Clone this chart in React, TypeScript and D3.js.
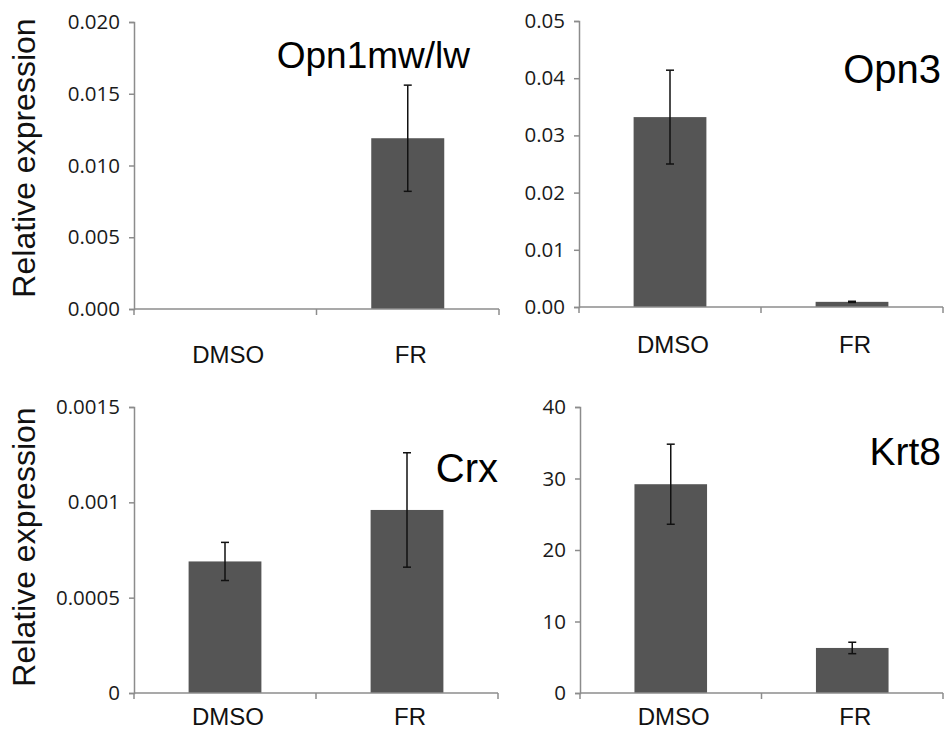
import React, { useEffect, useRef } from 'react';
import * as d3 from 'd3';

const categories = ['DMSO', 'FR'];

const opn1Means = [0, 0.0119];
const opn1Errors = [0, 0.0037];
const opn1Ticks = [0, 0.005, 0.01, 0.015, 0.02];
const opn1TickLabels = ['0.000', '0.005', '0.010', '0.015', '0.020'];

const opn3Means = [0.0332, 0.0009];
const opn3Errors = [0.0082, 0.0001];
const opn3Ticks = [0, 0.01, 0.02, 0.03, 0.04, 0.05];
const opn3TickLabels = ['0.00', '0.01', '0.02', '0.03', '0.04', '0.05'];

const crxMeans = [0.00069, 0.00096];
const crxErrors = [0.0001, 0.0003];
const crxTicks = [0, 0.0005, 0.001, 0.0015];
const crxTickLabels = ['0', '0.0005', '0.001', '0.0015'];

const krt8Means = [29.2, 6.3];
const krt8Errors = [5.6, 0.8];
const krt8Ticks = [0, 10, 20, 30, 40];
const krt8TickLabels = ['0', '10', '20', '30', '40'];

const AXIS = '#8c8c8c';
const BAR = '#555555';

// layout for each of the four small charts
const panels = [
  { title: 'Opn1mw/lw', means: opn1Means, errors: opn1Errors, ticks: opn1Ticks, labels: opn1TickLabels,
    x0: 134, x1: 499, top: 22, bottom: 309, titleX: 470, titleY: 68, titleSize: 37, labelY: 363, yLabel: 158 },
  { title: 'Opn3', means: opn3Means, errors: opn3Errors, ticks: opn3Ticks, labels: opn3TickLabels,
    x0: 579, x1: 943, top: 21, bottom: 307, titleX: 941, titleY: 83, titleSize: 40, labelY: 353, yLabel: 0 },
  { title: 'Crx', means: crxMeans, errors: crxErrors, ticks: crxTicks, labels: crxTickLabels,
    x0: 134, x1: 498, top: 407, bottom: 693, titleX: 498, titleY: 482, titleSize: 40, labelY: 725, yLabel: 547 },
  { title: 'Krt8', means: krt8Means, errors: krt8Errors, ticks: krt8Ticks, labels: krt8TickLabels,
    x0: 580, x1: 943, top: 407, bottom: 693, titleX: 941, titleY: 465, titleSize: 39, labelY: 725, yLabel: 0 },
];

const App = () => {
  const svgRef = useRef<SVGSVGElement>(null);

  useEffect(() => {
    const svg = d3.select(svgRef.current);
    svg.selectAll('*').remove();

    panels.forEach(p => {
      const g = svg.append('g');
      const maxTick = p.ticks[p.ticks.length - 1];

      const x = d3.scaleBand()
        .domain(categories)
        .range([p.x0, p.x1])
        .paddingInner(0.6)
        .paddingOuter(0.3);

      const y = d3.scaleLinear()
        .domain([0, maxTick])
        .range([p.bottom, p.top]);

      // bars
      g.selectAll('rect')
        .data(p.means)
        .enter()
        .append('rect')
        .attr('x', (d, i) => x(categories[i]))
        .attr('y', d => y(d))
        .attr('width', x.bandwidth())
        .attr('height', d => p.bottom - y(d))
        .attr('fill', BAR);

      // y axis
      const yAxis = d3.axisLeft(y)
        .tickValues(p.ticks)
        .tickFormat((d, i) => p.labels[i])
        .tickSize(5)
        .tickPadding(9);
      const ya = g.append('g')
        .attr('transform', `translate(${p.x0},0)`)
        .call(yAxis);
      ya.attr('font-size', null).attr('font-family', null);
      ya.select('.domain').attr('stroke', AXIS).attr('stroke-width', 1.5);
      ya.selectAll('.tick line').attr('stroke', AXIS).attr('stroke-width', 1.5);
      ya.selectAll('.tick text')
        .attr('font-family', '"Open Sans", sans-serif')
        .attr('font-size', 20.5)
        .attr('fill', '#1a1a1a');

      // x axis line with ticks at band edges
      g.append('line')
        .attr('x1', p.x0).attr('x2', p.x1)
        .attr('y1', p.bottom).attr('y2', p.bottom)
        .attr('stroke', AXIS).attr('stroke-width', 1.5);
      const edges = [p.x0, (p.x0 + p.x1) / 2, p.x1];
      g.selectAll('.xtick')
        .data(edges)
        .enter()
        .append('line')
        .attr('class', 'xtick')
        .attr('x1', d => d).attr('x2', d => d)
        .attr('y1', p.bottom).attr('y2', p.bottom + 6)
        .attr('stroke', AXIS).attr('stroke-width', 1.5);

      // category labels
      g.selectAll('.xlab')
        .data(categories)
        .enter()
        .append('text')
        .attr('class', 'xlab')
        .attr('x', d => x(d) + x.bandwidth() / 2 + 3)
        .attr('y', p.labelY)
        .attr('text-anchor', 'middle')
        .attr('font-family', 'Liberation Sans, Arial, sans-serif')
        .attr('font-size', 24)
        .attr('fill', '#111')
        .text(d => d);

      // error bars
      const cx = (i: number) => x(categories[i]) + x.bandwidth() / 2;
      p.means.forEach((m, i) => {
        const e = p.errors[i];
        if (m === 0 && e === 0) return;
        const yt = y(m + e);
        const yb = y(m - e);
        g.append('line')
          .attr('x1', cx(i)).attr('x2', cx(i))
          .attr('y1', yt).attr('y2', yb)
          .attr('stroke', '#111').attr('stroke-width', 1.5);
        [yt, yb].forEach(yy => {
          g.append('line')
            .attr('x1', cx(i) - 4).attr('x2', cx(i) + 4)
            .attr('y1', yy).attr('y2', yy)
            .attr('stroke', '#111').attr('stroke-width', 1.5);
        });
      });

      // gene title
      g.append('text')
        .attr('x', p.titleX)
        .attr('y', p.titleY)
        .attr('text-anchor', 'end')
        .attr('font-family', 'Liberation Sans, Arial, sans-serif')
        .attr('font-size', p.titleSize)
        .attr('fill', '#000')
        .text(p.title);

      if (p.yLabel) {
        g.append('text')
          .attr('transform', `translate(35,${p.yLabel}) rotate(-90)`)
          .attr('text-anchor', 'middle')
          .attr('font-family', 'Liberation Sans, Arial, sans-serif')
          .attr('font-size', 32)
          .attr('fill', '#111')
          .text('Relative expression');
      }
    });
  }, []);

  return (
    <svg
      ref={svgRef}
      width={948}
      height={731}
      style={{ position: 'absolute', left: 0, top: 0, background: '#fff' }}
    ></svg>
  );
};

export default App;
